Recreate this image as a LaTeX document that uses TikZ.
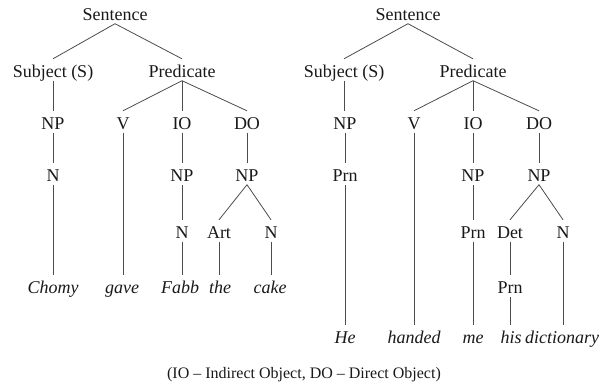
\documentclass[tikz,border=0pt]{standalone}
\usepackage{fontspec}
\setmainfont{Liberation Serif}
\begin{document}
\begin{tikzpicture}[x=1pt,y=-1pt,
  lab/.style={inner sep=0pt,text height=12pt,text depth=0pt,font=\fontsize{18}{20}\selectfont,text=black!90},
  leaf/.style={lab,font=\fontsize{18}{20}\selectfont\itshape},
  ln/.style={draw=black!70,line width=0.8pt}]
\useasboundingbox (0,0) rectangle (600,383);
\newcommand\bedge[2]{\draw[ln] ([yshift=-3.5pt]#1.south) -- ([yshift=6pt]#2.north);}
\newcommand\vedge[2]{\draw[ln] ([yshift=-3.5pt]#1.south) -- ([yshift=6pt]#1.south |- #2.north);}
% left tree
\node[lab] (S1) at (115,14) {Sentence};
\node[lab] (Subj1) at (53,71) {Subject (S)};
\node[lab] (Pred1) at (182,71) {Predicate};
\node[lab] (NP1a) at (53,123) {NP};
\node[lab] (V1) at (123,123) {V};
\node[lab] (IO1) at (182,123) {IO};
\node[lab] (DO1) at (247,123) {DO};
\node[lab] (N1a) at (53,175) {N};
\node[lab] (NP1b) at (182,175) {NP};
\node[lab] (NP1c) at (247,175) {NP};
\node[lab] (N1b) at (182,232) {N};
\node[lab] (Art1) at (219,232) {Art};
\node[lab] (N1c) at (271,232) {N};
\node[leaf] (w1) at (53,287) {Chomy};
\node[leaf] (w2) at (122,287) {gave};
\node[leaf] (w3) at (180,287) {Fabb};
\node[leaf] (w4) at (220,287) {the};
\node[leaf] (w5) at (270,287) {cake};
\bedge{S1}{Subj1}\bedge{S1}{Pred1}
\vedge{Subj1}{NP1a}
\bedge{Pred1}{V1}\vedge{Pred1}{IO1}\bedge{Pred1}{DO1}
\vedge{NP1a}{N1a}\vedge{N1a}{w1}
\vedge{V1}{w2}
\vedge{IO1}{NP1b}\vedge{NP1b}{N1b}\vedge{N1b}{w3}
\vedge{DO1}{NP1c}\bedge{NP1c}{Art1}\bedge{NP1c}{N1c}
\vedge{Art1}{w4}\vedge{N1c}{w5}
% right tree
\node[lab] (S2) at (408,14) {Sentence};
\node[lab] (Subj2) at (344,71) {Subject (S)};
\node[lab] (Pred2) at (473,71) {Predicate};
\node[lab] (NP2a) at (345,123) {NP};
\node[lab] (V2) at (414,123) {V};
\node[lab] (IO2) at (473,123) {IO};
\node[lab] (DO2) at (539,123) {DO};
\node[lab] (Prn2a) at (345,175) {Prn};
\node[lab] (NP2b) at (473,175) {NP};
\node[lab] (NP2c) at (539,175) {NP};
\node[lab] (Prn2b) at (473,232) {Prn};
\node[lab] (Det2) at (510,232) {Det};
\node[lab] (N2) at (563,232) {N};
\node[lab] (Prn2c) at (510,287) {Prn};
\node[leaf] (x1) at (345,337) {He};
\node[leaf] (x2) at (414,337) {handed};
\node[leaf] (x3) at (473,337) {me};
\node[leaf] (x4) at (511,337) {his};
\node[leaf,anchor=west] (x5) at (525,337) {dictionary};
\bedge{S2}{Subj2}\bedge{S2}{Pred2}
\vedge{Subj2}{NP2a}
\bedge{Pred2}{V2}\vedge{Pred2}{IO2}\bedge{Pred2}{DO2}
\vedge{NP2a}{Prn2a}\vedge{Prn2a}{x1}
\vedge{V2}{x2}
\vedge{IO2}{NP2b}\vedge{NP2b}{Prn2b}\vedge{Prn2b}{x3}
\vedge{DO2}{NP2c}\bedge{NP2c}{Det2}\bedge{NP2c}{N2}
\vedge{Det2}{Prn2c}\vedge{Prn2c}{x4}
\draw[ln] ([yshift=-3.5pt]N2.south) -- ([yshift=6pt]N2.south |- x4.north);
% caption
\node[lab,font=\fontsize{16}{18}\selectfont] (cap) at (304,372) {(IO -- Indirect Object, DO -- Direct Object)};
\end{tikzpicture}
\end{document}
